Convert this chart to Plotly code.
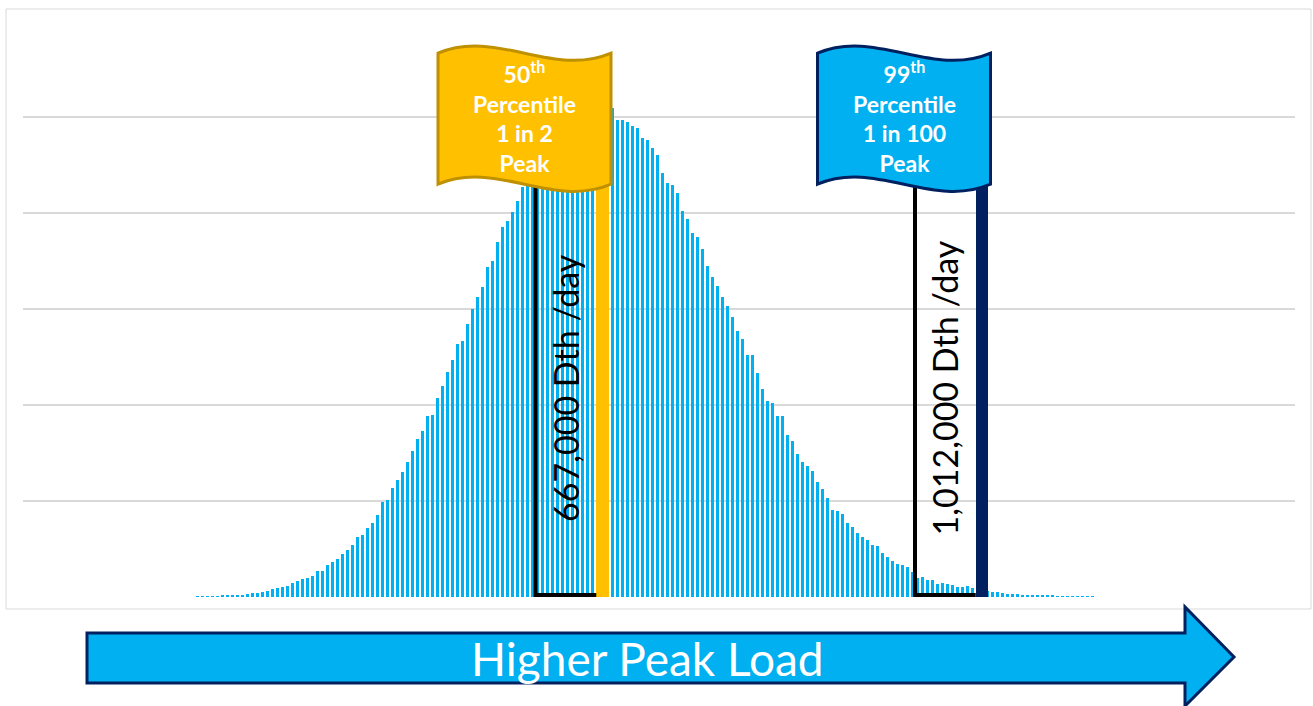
import plotly.graph_objects as go

# ---------------- data ----------------
# histogram counts per bin (gridline step = 100)
LEFT_TAIL = [0.3, 0.3, 0.4, 0.7, 1.0, 1.4, 1.4, 2.0, 2.4, 2.4,
             3.5, 4.2, 4.5, 5.2, 6.2, 8.3, 9.0, 10.4, 11.8, 14.6,
             17.0, 18.4, 19.8, 22.0, 27.4, 27.4, 33.0, 36.4, 39.8, 45.0,
             48.5, 53.7, 62.4, 65.0, 71.7, 77.3, 85.6, 98.8, 101.5, 113.3,
             122.3, 130.0, 140.3, 152.5, 164.6, 173.3]
RISE = [188.5, 190.0, 207.6, 219.7, 234.6, 246.8, 264.0, 267.0, 284.0, 300.5,
        313.0, 322.6, 343.4, 350.4, 370.0, 385.0, 392.0, 400.6, 412.0, 426.6]
PEAK = [436, 448, 451, 462, 465, 473, 476, 484, 486, 493,
        495, 500, 502, 506, 507, 508, 510]
FALL = [509.0, 497.0, 497.0, 495.0, 491.0, 489.0, 478.6, 476.0, 468.0, 460.0,
        441.5, 431.0, 429.0, 420.7, 401.6, 394.0, 379.0, 374.6, 362.8, 344.5,
        333.0, 323.7, 312.6, 303.0, 291.5, 277.6, 268.3, 251.6, 251.6, 233.0,
        216.3, 204.0, 202.4, 189.0, 189.0]
RIGHT_TAIL = [169.0, 163.0, 148.6, 140.6, 136.0, 131.0, 120.0, 112.0, 103.5, 90.3,
              89.6, 86.8, 77.0, 73.0, 66.7, 62.5, 59.8, 54.6, 53.0, 46.0,
              41.7, 37.5, 34.8, 33.0, 31.3, 26.0, 20.2, 20.8, 18.0, 18.0,
              14.0, 14.6, 13.3, 12.2, 10.5, 10.0, 11.3, 9.0, 8.0, 7.0,
              6.5, 4.8, 5.5, 4.5, 3.1, 2.8, 2.8, 2.4, 2.1, 2.1,
              1.7, 1.7, 1.4, 1.4, 1.0, 1.0, 0.7, 0.7, 0.7, 0.7,
              0.7, 0.3]

COUNTS = LEFT_TAIL + RISE + PEAK + FALL + RIGHT_TAIL
BINS = list(range(len(COUNTS)))

# percentile markers
PCT_BIN = [81.0, 156.9]
PCT_HEIGHT = [450, 450]
PCT_BAR_COLOR = ["#FFC000", "#002060"]
FLAG_FILL = ["#FFC000", "#00B0F0"]
FLAG_LINE = ["#BF9000", "#002060"]
FLAG_TEXT = ["<b>50<sup>th</sup><br>Percentile<br>1 in 2<br>Peak</b>",
             "<b>99<sup>th</sup><br>Percentile<br>1 in 100<br>Peak</b>"]
LOAD_TEXT = ["667,000 Dth /day", "1,012,000 Dth /day"]
ARROW_TEXT = "Higher Peak Load"

# ---------------- layout constants ----------------
W, H = 1313, 706
ML, MR, MT, MB = 23, 18, 21, 109
PW, PH = W - ML - MR, H - MT - MB
BAR_BLUE = "#00B0F0"
NAVY = "#002060"
GRID = "#D9D9D9"
FONT = "Lato"


def px_x(px):
    return (px - ML) / PW


def px_y(py):
    return (H - MB - py) / PH


fig = go.Figure()
fig.add_trace(go.Bar(x=BINS, y=COUNTS, width=0.78, marker_color=BAR_BLUE,
                     marker_line_width=0, hoverinfo="skip"))
for c, h, col in zip(PCT_BIN, PCT_HEIGHT, PCT_BAR_COLOR):
    fig.add_trace(go.Bar(x=[c], y=[h], width=2.5, marker_color=col,
                         marker_line_width=0, hoverinfo="skip"))

shapes = []
# chart frame
shapes.append(dict(type="rect", xref="paper", yref="paper",
                   x0=px_x(6), x1=px_x(1311), y0=px_y(609), y1=px_y(9),
                   line=dict(color=GRID, width=1), fillcolor="rgba(0,0,0,0)",
                   layer="below"))

annotations = []
for i, c in enumerate(PCT_BIN):
    bl = c - 13.4
    br = c - 1.25
    # bracket box (left + bottom sides)
    shapes.append(dict(type="path", xref="x", yref="y",
                       path=f"M {bl},440 L {bl},2 L {br},2",
                       line=dict(color="black", width=4),
                       fillcolor="rgba(0,0,0,0)"))
    annotations.append(dict(x=(bl + br) / 2, y=217.7, xref="x", yref="y",
                            text=LOAD_TEXT[i], textangle=-90, showarrow=False,
                            xanchor="center", yanchor="middle", xshift=-1,
                            font=dict(family=FONT, size=34, color="black")))
    # wavy flag
    x0, x1 = c - 32.9, c + 1.7
    w = x1 - x0
    yt, yb, k = 566.5, 430.0, 26.0
    path = (f"M {x0},{yt} C {x0 + w / 3},{yt + k} {x0 + 2 * w / 3},{yt - k} {x1},{yt} "
            f"L {x1},{yb} C {x0 + 2 * w / 3},{yb - k} {x0 + w / 3},{yb + k} {x0},{yb} Z")
    shapes.append(dict(type="path", xref="x", yref="y", path=path,
                       fillcolor=FLAG_FILL[i], line=dict(color=FLAG_LINE[i], width=3)))
    annotations.append(dict(x=(x0 + x1) / 2, y=500, xref="x", yref="y",
                            text=FLAG_TEXT[i], showarrow=False, align="center",
                            xanchor="center", yanchor="middle",
                            font=dict(family=FONT, size=23, color="white")))

# big arrow below the chart
pts = [(87, 633), (1185, 633), (1185, 607), (1234, 657), (1185, 706), (1185, 683), (87, 683)]
arrow_path = "M " + " L ".join(f"{px_x(a)},{px_y(b)}" for a, b in pts) + " Z"
shapes.append(dict(type="path", xref="paper", yref="paper", path=arrow_path,
                   fillcolor=BAR_BLUE, line=dict(color=NAVY, width=3)))
annotations.append(dict(x=px_x(647.5), y=px_y(658), xref="paper", yref="paper",
                        xanchor="center", yanchor="middle",
                        text=ARROW_TEXT, showarrow=False,
                        font=dict(family=FONT, size=46, color="white")))

fig.update_layout(
    width=W, height=H,
    margin=dict(l=ML, r=MR, t=MT, b=MB, pad=0),
    paper_bgcolor="white", plot_bgcolor="white",
    barmode="overlay", bargap=0, showlegend=False,
    shapes=shapes, annotations=annotations,
    xaxis=dict(range=[-34.9, 219.5], showgrid=False, zeroline=False,
               showticklabels=False, ticks="", showline=False, fixedrange=True),
    yaxis=dict(range=[0, 600], tickvals=[0, 100, 200, 300, 400, 500, 600],
               showgrid=True, gridcolor=GRID, gridwidth=1.5, zeroline=False,
               showticklabels=False, ticks="", showline=False, fixedrange=True),
)

fig.write_html("out.html", config={"displayModeBar": False},
               post_script="document.body.style.margin='0';document.body.style.overflow='hidden';")
